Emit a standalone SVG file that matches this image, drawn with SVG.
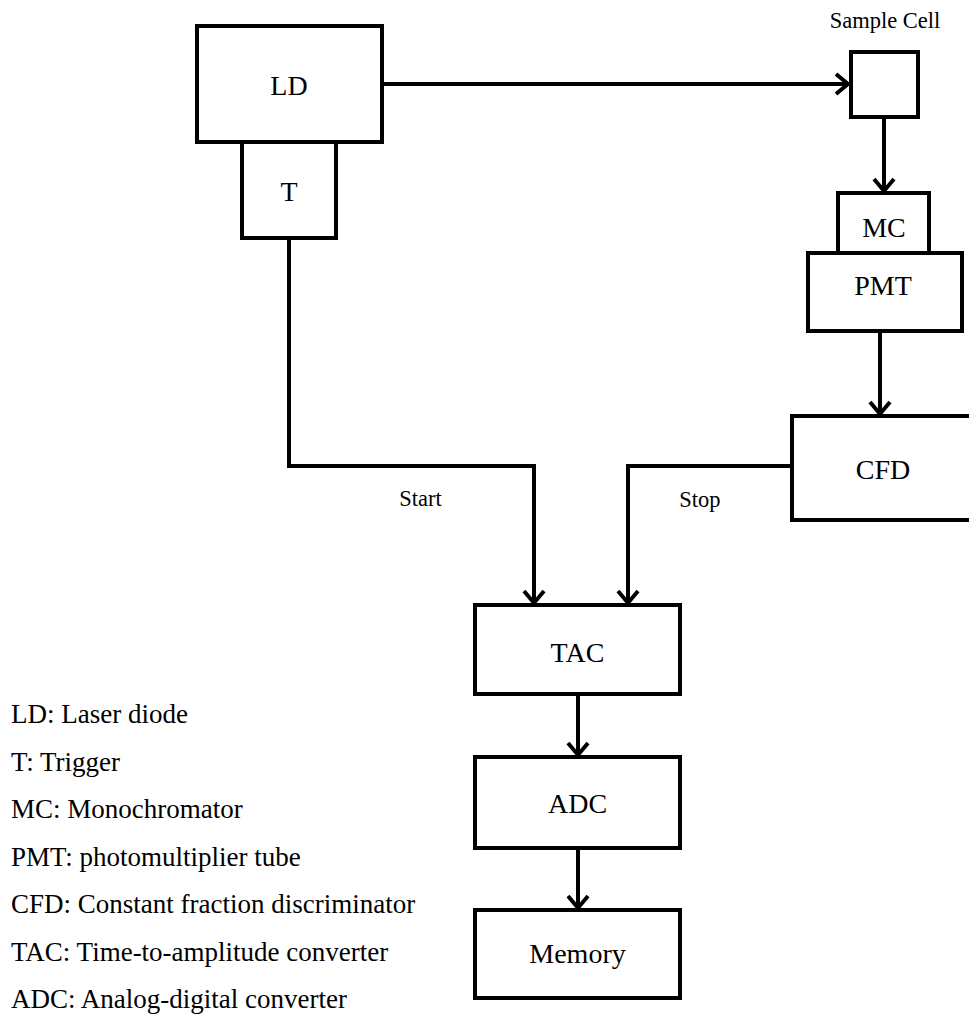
<svg xmlns="http://www.w3.org/2000/svg" width="969" height="1028" viewBox="0 0 969 1028">
<style>
.box{fill:#fff;stroke:#000;stroke-width:4}
.lbl{font-family:"Liberation Serif","Times New Roman",serif;font-size:28px;text-anchor:middle;fill:#000}
.small{font-family:"Liberation Serif","Times New Roman",serif;font-size:22.5px;text-anchor:middle;fill:#000}
.leg{font-family:"Liberation Serif","Times New Roman",serif;font-size:27px;fill:#000}
.con{fill:none;stroke:#000;stroke-width:4}
.head{fill:none;stroke:#000;stroke-width:4;stroke-linejoin:miter}
</style>
<rect width="969" height="1028" fill="#fff"/>
<g id="connectors">
<path class="con" d="M382 84 H848"/>
<path class="head" d="M836 74 L848 84 L836 94"/>
<path class="con" d="M884 117 V191"/>
<path class="head" d="M874 179 L884 191 L894 179"/>
<path class="con" d="M880 331 V414"/>
<path class="head" d="M870 402 L880 414 L890 402"/>
<path class="con" d="M289 238 V466 H534 V603"/>
<path class="head" d="M524 591 L534 603 L544 591"/>
<path class="con" d="M792 466 H628 V603"/>
<path class="head" d="M618 591 L628 603 L638 591"/>
<path class="con" d="M578 694 V755"/>
<path class="head" d="M568 743 L578 755 L588 743"/>
<path class="con" d="M578 848 V908"/>
<path class="head" d="M568 896 L578 908 L588 896"/>
<text class="small" x="420.5" y="506">Start</text>
<text class="small" x="700" y="507">Stop</text>
</g>
<g id="ld"><rect class="box" x="197" y="26" width="185" height="116"/><text class="lbl" x="289" y="95">LD</text></g>
<g id="t"><rect class="box" x="242" y="142" width="94" height="96"/><text class="lbl" x="289" y="201">T</text></g>
<g id="sample"><rect class="box" x="851" y="52" width="67" height="65"/><text class="small" x="885" y="28">Sample Cell</text></g>
<g id="pmt"><rect class="box" x="808" y="253" width="154" height="78"/><text class="lbl" x="883" y="295">PMT</text></g>
<g id="mc"><rect class="box" x="838" y="193" width="91" height="60"/><text class="lbl" x="884" y="237">MC</text></g>
<g id="cfd"><rect class="box" x="792" y="416" width="200" height="104"/><text class="lbl" x="883" y="479">CFD</text></g>
<g id="tac"><rect class="box" x="475" y="605" width="205" height="89"/><text class="lbl" x="577.5" y="662">TAC</text></g>
<g id="adc"><rect class="box" x="475" y="757" width="205" height="91"/><text class="lbl" x="577.5" y="813">ADC</text></g>
<g id="memory"><rect class="box" x="475" y="910" width="205" height="88"/><text class="lbl" x="577.5" y="963">Memory</text></g>
<g id="legend">
<text class="leg" x="11" y="723">LD: Laser diode</text>
<text class="leg" x="11" y="770.5">T: Trigger</text>
<text class="leg" x="11" y="818">MC: Monochromator</text>
<text class="leg" x="11" y="865.5">PMT: photomultiplier tube</text>
<text class="leg" x="11" y="913">CFD: Constant fraction discriminator</text>
<text class="leg" x="11" y="960.5">TAC: Time-to-amplitude converter</text>
<text class="leg" x="11" y="1008">ADC: Analog-digital converter</text>
</g>
</svg>
